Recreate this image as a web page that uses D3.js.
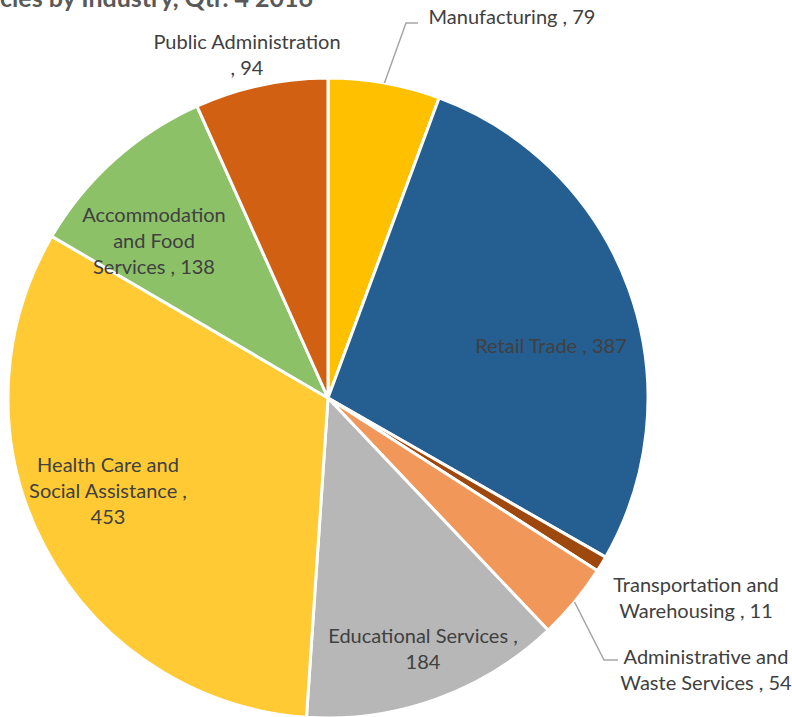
<!DOCTYPE html>
<html><head><meta charset="utf-8">
<script src="https://cdn.jsdelivr.net/npm/d3@7"></script>
<style>body{margin:0;background:#fff;} svg{display:block;}</style>
</head><body>
<svg id="c" width="792" height="717"></svg>
<script>
const categories = ["Manufacturing","Retail Trade","Transportation and Warehousing","Administrative and Waste Services","Educational Services","Health Care and Social Assistance","Accommodation and Food Services","Public Administration"];
const values = [79,387,11,54,184,453,138,94];
const colors = ["#FFC000","#255E91","#9E480E","#F1975A","#B7B7B7","#FFCA33","#8CC168","#D26012"];
const labelLines = [
  ["Manufacturing ,  79"],
  ["Retail Trade ,  387"],
  ["Transportation and","Warehousing ,  11"],
  ["Administrative and","Waste Services ,  54"],
  ["Educational Services ,","184"],
  ["Health Care and","Social Assistance ,","453"],
  ["Accommodation","and Food","Services ,  138"],
  ["Public Administration",",  94"]
];
const title = "Job Vacancies by Industry, Qtr. 4 2016";

// layout (positions of labels)
const layout = {
  cx: 328, cy: 398, r: 320,
  labels: [
    {x:512, y:24, anchor:"middle"},
    {x:551, y:353, anchor:"middle"},
    {x:696, y:592, anchor:"middle"},
    {x:706, y:664, anchor:"middle"},
    {x:423, y:643, anchor:"middle"},
    {x:108, y:472, anchor:"middle"},
    {x:154, y:222, anchor:"middle"},
    {x:247, y:49, anchor:"middle"}
  ],
  leaders: {0:[[406,23],[418,23]], 3:[[604,660],[618,660]]}
};
const lineH = 26;

const svg = d3.select("#c");
const data = categories.map((c,i)=>({name:c,value:values[i],color:colors[i],lines:labelLines[i]}));
const pie = d3.pie().sort(null).value(d=>d.value).startAngle(0).endAngle(2*Math.PI);
const arcs = pie(data);
const arc = d3.arc().innerRadius(0).outerRadius(layout.r);
const g = svg.append("g").attr("transform",`translate(${layout.cx},${layout.cy})`);
g.selectAll("path").data(arcs).join("path")
  .attr("d",arc).attr("fill",d=>d.data.color)
  .attr("stroke","#fff").attr("stroke-width",3).attr("stroke-linejoin","round");

// leader lines
arcs.forEach((a,i)=>{
  if(!layout.leaders[i]) return;
  const m=(a.startAngle+a.endAngle)/2;
  const p0=[layout.cx+layout.r*Math.sin(m), layout.cy-layout.r*Math.cos(m)];
  const pts=[p0,...layout.leaders[i]];
  svg.append("path").attr("d",d3.line()(pts)).attr("fill","none")
    .attr("stroke","#A6A6A6").attr("stroke-width",1.5);
});

const font = "Lato, 'Open Sans', sans-serif";
arcs.forEach((a,i)=>{
  const L=layout.labels[i];
  const t=svg.append("text").attr("x",L.x).attr("y",L.y).attr("text-anchor",L.anchor)
    .attr("font-family",font).attr("font-size",20).attr("fill","#404040");
  a.data.lines.forEach((s,j)=>{
    t.append("tspan").attr("x",L.x).attr("y",L.y+j*lineH).text(s);
  });
});

svg.append("text").attr("x",313).attr("y",7).attr("text-anchor","end")
  .attr("font-family",font).attr("font-weight","bold").attr("font-size",25)
  .attr("fill","#595959").text(title);
</script>
</body></html>
